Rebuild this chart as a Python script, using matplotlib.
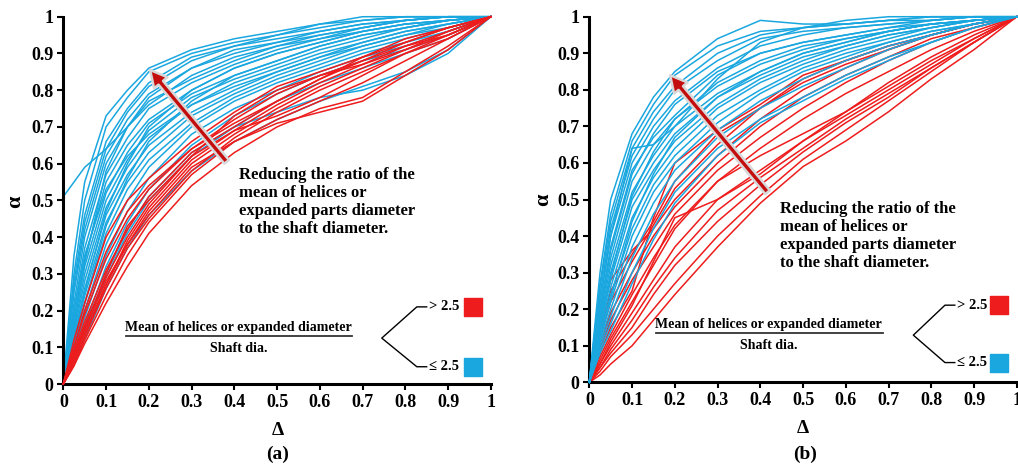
import matplotlib
matplotlib.use("Agg")
import matplotlib.pyplot as plt

plt.rcParams['font.family'] = ['Liberation Serif', 'DejaVu Serif']
plt.rcParams['font.weight'] = 'bold'

BLUE = '#1aa7e0'
RED = '#ee1c1c'

# common Delta grid for every curve
delta = [0, 0.025, 0.05, 0.1, 0.15, 0.2, 0.3, 0.4, 0.5, 0.6, 0.7, 0.8, 0.9, 1.0]

# panel (a): ratio <= 2.5
blue_a = [
    [0.00, 0.35, 0.55, 0.73, 0.80, 0.86, 0.91, 0.94, 0.96, 0.98, 0.99, 1.00, 1.00, 1.00],
    [0.51, 0.55, 0.59, 0.64, 0.70, 0.76, 0.84, 0.89, 0.92, 0.95, 0.97, 0.99, 1.00, 1.00],
    [0.00, 0.30, 0.50, 0.70, 0.78, 0.85, 0.90, 0.93, 0.95, 0.97, 0.99, 1.00, 1.00, 1.00],
    [0.00, 0.28, 0.46, 0.66, 0.75, 0.82, 0.89, 0.92, 0.94, 0.96, 0.98, 0.99, 1.00, 1.00],
    [0.00, 0.26, 0.44, 0.64, 0.74, 0.81, 0.88, 0.92, 0.95, 0.98, 1.00, 1.00, 1.00, 1.00],
    [0.00, 0.25, 0.42, 0.62, 0.72, 0.79, 0.86, 0.91, 0.93, 0.95, 0.97, 0.99, 1.00, 1.00],
    [0.00, 0.22, 0.40, 0.60, 0.70, 0.77, 0.83, 0.88, 0.92, 0.94, 0.97, 0.99, 1.00, 1.00],
    [0.00, 0.20, 0.37, 0.57, 0.67, 0.75, 0.82, 0.87, 0.91, 0.94, 0.96, 0.98, 0.99, 1.00],
    [0.00, 0.20, 0.35, 0.53, 0.62, 0.68, 0.76, 0.81, 0.85, 0.89, 0.93, 0.96, 0.98, 1.00],
    [0.00, 0.18, 0.34, 0.55, 0.65, 0.72, 0.80, 0.86, 0.90, 0.93, 0.96, 0.98, 0.99, 1.00],
    [0.00, 0.16, 0.33, 0.58, 0.70, 0.78, 0.86, 0.90, 0.93, 0.96, 0.98, 0.99, 1.00, 1.00],
    [0.00, 0.17, 0.32, 0.52, 0.63, 0.71, 0.79, 0.84, 0.88, 0.92, 0.95, 0.97, 0.99, 1.00],
    [0.00, 0.15, 0.30, 0.50, 0.61, 0.69, 0.78, 0.83, 0.87, 0.91, 0.94, 0.97, 0.99, 1.00],
    [0.00, 0.14, 0.28, 0.48, 0.59, 0.67, 0.76, 0.82, 0.86, 0.90, 0.93, 0.96, 0.98, 1.00],
    [0.00, 0.13, 0.26, 0.46, 0.57, 0.65, 0.74, 0.80, 0.85, 0.89, 0.92, 0.95, 0.98, 1.00],
    [0.00, 0.12, 0.25, 0.47, 0.60, 0.70, 0.80, 0.86, 0.90, 0.93, 0.96, 0.98, 0.99, 1.00],
    [0.00, 0.12, 0.24, 0.44, 0.55, 0.63, 0.73, 0.79, 0.84, 0.88, 0.92, 0.95, 0.97, 1.00],
    [0.00, 0.11, 0.22, 0.41, 0.53, 0.61, 0.71, 0.78, 0.83, 0.87, 0.91, 0.94, 0.97, 1.00],
    [0.00, 0.10, 0.22, 0.43, 0.56, 0.66, 0.77, 0.84, 0.88, 0.92, 0.95, 0.97, 0.99, 1.00],
    [0.00, 0.10, 0.20, 0.38, 0.50, 0.59, 0.70, 0.77, 0.82, 0.86, 0.90, 0.93, 0.96, 1.00],
    [0.00, 0.09, 0.18, 0.35, 0.47, 0.56, 0.68, 0.75, 0.80, 0.85, 0.89, 0.92, 0.96, 1.00],
    [0.00, 0.08, 0.16, 0.32, 0.44, 0.53, 0.65, 0.73, 0.79, 0.84, 0.88, 0.91, 0.95, 1.00],
    [0.00, 0.07, 0.14, 0.29, 0.41, 0.50, 0.62, 0.70, 0.77, 0.82, 0.86, 0.90, 0.94, 1.00],
    [0.00, 0.07, 0.15, 0.30, 0.42, 0.51, 0.63, 0.70, 0.74, 0.78, 0.80, 0.84, 0.90, 1.00],
    [0.00, 0.06, 0.12, 0.26, 0.37, 0.46, 0.58, 0.66, 0.72, 0.77, 0.81, 0.85, 0.91, 1.00],
]

# panel (a): ratio > 2.5
red_a = [
    [0.00, 0.12, 0.22, 0.40, 0.50, 0.56, 0.66, 0.74, 0.81, 0.85, 0.89, 0.94, 0.97, 1.00],
    [0.00, 0.10, 0.20, 0.36, 0.47, 0.54, 0.64, 0.71, 0.77, 0.83, 0.89, 0.93, 0.97, 1.00],
    [0.00, 0.10, 0.19, 0.34, 0.45, 0.53, 0.64, 0.72, 0.79, 0.84, 0.88, 0.93, 0.97, 1.00],
    [0.00, 0.09, 0.17, 0.31, 0.42, 0.51, 0.63, 0.70, 0.77, 0.83, 0.88, 0.92, 0.96, 1.00],
    [0.00, 0.08, 0.16, 0.29, 0.40, 0.49, 0.62, 0.69, 0.76, 0.82, 0.87, 0.91, 0.96, 1.00],
    [0.00, 0.08, 0.15, 0.30, 0.43, 0.50, 0.62, 0.73, 0.80, 0.84, 0.87, 0.92, 0.95, 1.00],
    [0.00, 0.07, 0.15, 0.28, 0.38, 0.47, 0.60, 0.68, 0.75, 0.81, 0.86, 0.91, 0.95, 1.00],
    [0.00, 0.07, 0.14, 0.27, 0.39, 0.48, 0.61, 0.69, 0.73, 0.78, 0.84, 0.90, 0.94, 1.00],
    [0.00, 0.06, 0.13, 0.26, 0.37, 0.45, 0.58, 0.67, 0.74, 0.80, 0.85, 0.90, 0.95, 1.00],
    [0.00, 0.06, 0.13, 0.27, 0.38, 0.46, 0.59, 0.66, 0.71, 0.74, 0.77, 0.84, 0.91, 1.00],
    [0.00, 0.05, 0.12, 0.24, 0.35, 0.44, 0.57, 0.66, 0.72, 0.77, 0.82, 0.88, 0.94, 1.00],
    [0.00, 0.05, 0.11, 0.22, 0.32, 0.41, 0.54, 0.63, 0.70, 0.75, 0.78, 0.85, 0.92, 1.00],
]

# panel (b): ratio <= 2.5
blue_b = [
    [0.00, 0.30, 0.50, 0.68, 0.78, 0.85, 0.94, 0.99, 0.98, 0.98, 0.99, 1.00, 1.00, 1.00],
    [0.00, 0.27, 0.46, 0.66, 0.76, 0.84, 0.92, 0.96, 0.97, 0.98, 0.99, 0.99, 1.00, 1.00],
    [0.00, 0.26, 0.44, 0.64, 0.74, 0.81, 0.90, 0.95, 0.97, 0.99, 1.00, 1.00, 1.00, 1.00],
    [0.00, 0.24, 0.42, 0.62, 0.72, 0.80, 0.88, 0.94, 0.96, 0.97, 0.98, 0.99, 1.00, 1.00],
    [0.00, 0.22, 0.40, 0.64, 0.65, 0.70, 0.83, 0.93, 0.97, 0.98, 0.99, 1.00, 1.00, 1.00],
    [0.00, 0.22, 0.40, 0.60, 0.70, 0.77, 0.86, 0.92, 0.95, 0.97, 0.98, 0.99, 1.00, 1.00],
    [0.00, 0.20, 0.37, 0.58, 0.67, 0.73, 0.84, 0.90, 0.93, 0.95, 0.97, 0.99, 1.00, 1.00],
    [0.00, 0.19, 0.36, 0.57, 0.68, 0.76, 0.85, 0.90, 0.93, 0.95, 0.97, 0.98, 0.99, 1.00],
    [0.00, 0.18, 0.34, 0.55, 0.65, 0.72, 0.81, 0.87, 0.91, 0.94, 0.96, 0.98, 0.99, 1.00],
    [0.00, 0.17, 0.32, 0.52, 0.62, 0.70, 0.79, 0.85, 0.90, 0.93, 0.96, 0.98, 0.99, 1.00],
    [0.00, 0.16, 0.30, 0.50, 0.60, 0.68, 0.78, 0.84, 0.89, 0.92, 0.95, 0.97, 0.99, 1.00],
    [0.00, 0.15, 0.29, 0.51, 0.63, 0.72, 0.82, 0.88, 0.92, 0.94, 0.96, 0.98, 0.99, 1.00],
    [0.00, 0.15, 0.28, 0.48, 0.58, 0.66, 0.76, 0.83, 0.88, 0.92, 0.95, 0.97, 0.99, 1.00],
    [0.00, 0.14, 0.26, 0.45, 0.56, 0.64, 0.75, 0.82, 0.87, 0.91, 0.94, 0.97, 0.99, 1.00],
    [0.00, 0.13, 0.24, 0.42, 0.54, 0.62, 0.73, 0.80, 0.86, 0.90, 0.93, 0.96, 0.98, 1.00],
    [0.00, 0.12, 0.23, 0.44, 0.57, 0.67, 0.78, 0.85, 0.90, 0.93, 0.96, 0.98, 0.99, 1.00],
    [0.00, 0.12, 0.22, 0.40, 0.52, 0.60, 0.71, 0.79, 0.85, 0.89, 0.93, 0.96, 0.98, 1.00],
    [0.00, 0.11, 0.20, 0.37, 0.49, 0.58, 0.69, 0.77, 0.83, 0.88, 0.92, 0.95, 0.98, 1.00],
    [0.00, 0.10, 0.18, 0.34, 0.46, 0.55, 0.67, 0.75, 0.81, 0.86, 0.91, 0.95, 0.98, 1.00],
    [0.00, 0.09, 0.16, 0.30, 0.42, 0.52, 0.64, 0.72, 0.78, 0.84, 0.89, 0.93, 0.97, 1.00],
    [0.00, 0.08, 0.14, 0.27, 0.39, 0.49, 0.62, 0.71, 0.77, 0.83, 0.88, 0.93, 0.97, 1.00],
]

# panel (b): ratio > 2.5
red_b = [
    [0.00, 0.17, 0.28, 0.36, 0.42, 0.50, 0.62, 0.72, 0.80, 0.86, 0.91, 0.95, 0.98, 1.00],
    [0.00, 0.14, 0.25, 0.35, 0.44, 0.55, 0.68, 0.75, 0.82, 0.87, 0.91, 0.95, 0.98, 1.00],
    [0.00, 0.12, 0.22, 0.33, 0.43, 0.53, 0.65, 0.75, 0.83, 0.88, 0.92, 0.95, 0.98, 1.00],
    [0.00, 0.08, 0.15, 0.25, 0.45, 0.60, 0.69, 0.76, 0.84, 0.88, 0.92, 0.95, 0.98, 1.00],
    [0.00, 0.10, 0.19, 0.30, 0.40, 0.48, 0.60, 0.70, 0.78, 0.84, 0.89, 0.94, 0.97, 1.00],
    [0.00, 0.09, 0.17, 0.28, 0.37, 0.46, 0.58, 0.67, 0.75, 0.82, 0.88, 0.93, 0.97, 1.00],
    [0.00, 0.07, 0.13, 0.24, 0.34, 0.43, 0.55, 0.64, 0.72, 0.79, 0.85, 0.91, 0.96, 1.00],
    [0.00, 0.06, 0.12, 0.22, 0.32, 0.42, 0.55, 0.62, 0.68, 0.74, 0.81, 0.88, 0.94, 1.00],
    [0.00, 0.05, 0.11, 0.21, 0.33, 0.45, 0.50, 0.57, 0.66, 0.74, 0.82, 0.89, 0.95, 1.00],
    [0.00, 0.05, 0.10, 0.19, 0.28, 0.37, 0.50, 0.58, 0.66, 0.73, 0.80, 0.87, 0.94, 1.00],
    [0.00, 0.04, 0.09, 0.17, 0.26, 0.34, 0.47, 0.56, 0.64, 0.72, 0.79, 0.86, 0.93, 1.00],
    [0.00, 0.04, 0.08, 0.15, 0.24, 0.32, 0.44, 0.54, 0.63, 0.71, 0.78, 0.86, 0.93, 1.00],
    [0.00, 0.03, 0.07, 0.13, 0.20, 0.27, 0.40, 0.51, 0.61, 0.69, 0.77, 0.85, 0.93, 1.00],
    [0.00, 0.02, 0.05, 0.10, 0.17, 0.24, 0.37, 0.49, 0.59, 0.66, 0.74, 0.83, 0.91, 1.00],
]

ticks = [0, 0.1, 0.2, 0.3, 0.4, 0.5, 0.6, 0.7, 0.8, 0.9, 1]
tick_labels = ['0', '0.1', '0.2', '0.3', '0.4', '0.5', '0.6', '0.7', '0.8', '0.9', '1']

note = ("Reducing the ratio of the\nmean of helices or\n"
        "expanded parts diameter\nto the shaft diameter.")

fig = plt.figure(figsize=(10.18, 4.71), dpi=100)

panels = [
    dict(rect=[0.0622, 0.1847, 0.4199, 0.7798], blue=blue_a, red=red_a, blue_top=False,
         tail=(0.382, 0.605), tip=(0.203, 0.855), note=(0.41, 0.59),
         frac_x=0.41, frac_y=(0.154, 0.131, 0.098), bar=(0.147, 0.675),
         brk=(0.745, 0.125, 0.827, 0.85, 0.21, 0.047),
         alpha_pos=(0.0147, 0.571), delta_pos=(0.2728, 0.087), tag_pos=(0.2728, 0.036), tag='(a)'),
    dict(rect=[0.5789, 0.1883, 0.4199, 0.7762], blue=blue_b, red=red_b, blue_top=True,
         tail=(0.417, 0.52), tip=(0.189, 0.84), note=(0.446, 0.495),
         frac_x=0.419, frac_y=(0.159, 0.135, 0.102), bar=(0.156, 0.686),
         brk=(0.758, 0.129, 0.832, 0.855, 0.211, 0.054),
         alpha_pos=(0.5334, 0.575), delta_pos=(0.789, 0.091), tag_pos=(0.791, 0.036), tag='(b)'),
]

for p in panels:
    ax = fig.add_axes(p['rect'])
    zb, zr = (3, 2) if p['blue_top'] else (2, 3)
    for ys in p['blue']:
        ax.plot(delta, ys, color=BLUE, lw=1.1, zorder=zb, clip_on=False)
    for ys in p['red']:
        ax.plot(delta, ys, color=RED, lw=1.1, zorder=zr, clip_on=False)

    ax.set_xlim(0, 1)
    ax.set_ylim(0, 1)
    ax.set_xticks(ticks)
    ax.set_xticklabels(tick_labels)
    ax.set_yticks(ticks)
    ax.set_yticklabels(tick_labels)
    ax.tick_params(labelsize=13, width=1.5, length=4, direction='out', pad=3)
    for lab in ax.get_xticklabels() + ax.get_yticklabels():
        lab.set_fontweight('bold')
    ax.spines['top'].set_visible(False)
    ax.spines['right'].set_visible(False)
    ax.spines['left'].set_linewidth(2.2)
    ax.spines['bottom'].set_linewidth(2.2)

    # big arrow with a light halo
    ax.annotate('', xy=p['tip'], xytext=p['tail'], zorder=6,
                arrowprops=dict(arrowstyle='simple,head_width=1.25,head_length=1.2,tail_width=0.42',
                                fc='#c40e0e', ec='#d8d8d8', lw=1.8, shrinkA=0, shrinkB=0))

    ax.text(p['note'][0], p['note'][1], note, fontsize=12, fontweight='bold',
            va='top', ha='left', linespacing=1.15, zorder=7)

    fy1, fbar, fy2 = p['frac_y']
    ax.text(p['frac_x'], fy1, 'Mean of helices or expanded diameter', fontsize=10,
            fontweight='bold', ha='center', va='center')
    ax.plot(p['bar'], [fbar, fbar], color='#333333', lw=1.3)
    ax.text(p['frac_x'], fy2, 'Shaft dia.', fontsize=10, fontweight='bold',
            ha='center', va='center')

    x0, y0, x1, x2, yu, yl = p['brk']
    ax.plot([x2, x1, x0, x1, x2], [yu, yu, y0, yl, yl], color='black', lw=1.0)
    ax.text(x2 + 0.005, yu, '> 2.5', fontsize=10.5, fontweight='bold', ha='left', va='center')
    ax.text(x2 + 0.005, yl, '\u2264 2.5', fontsize=10.5, fontweight='bold', ha='left', va='center')
    ax.scatter([0.958], [yu], marker='s', s=150, color=RED, clip_on=False)
    ax.scatter([0.958], [yl], marker='s', s=150, color=BLUE, clip_on=False)

    fig.text(p['alpha_pos'][0], p['alpha_pos'][1], '\u03b1', fontsize=16, fontweight='bold',
             rotation=90, ha='center', va='center')
    fig.text(p['delta_pos'][0], p['delta_pos'][1], '\u0394', fontsize=14, fontweight='bold',
             ha='center', va='center')
    fig.text(p['tag_pos'][0], p['tag_pos'][1], p['tag'], fontsize=14, fontweight='bold',
             ha='center', va='center')

fig.savefig('out.png', dpi=100)
